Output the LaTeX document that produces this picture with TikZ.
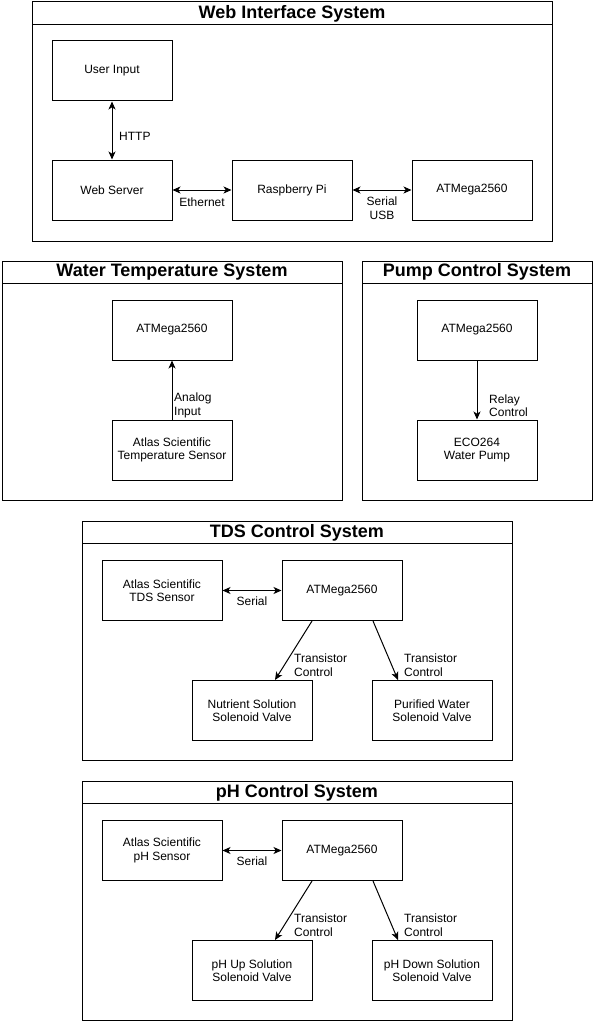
\documentclass[tikz,border=0pt]{standalone}
\usepackage{fontspec}
\setmainfont{Liberation Sans}
\usetikzlibrary{arrows.meta,calc}
\begin{document}
\begin{tikzpicture}[x=1pt,y=-1pt,
  box/.style={draw,line width=1pt,minimum width=120pt,minimum height=60pt,inner sep=0pt,align=center,font=\fontsize{12}{13.5}\selectfont},
  frame/.style={draw,line width=1pt},
  ttl/.style={font=\fontsize{18}{20}\selectfont\bfseries,inner sep=0pt},
  lbl/.style={font=\fontsize{12}{13.5}\selectfont,inner sep=0pt,align=left,anchor=west},
  lblc/.style={font=\fontsize{12}{13.5}\selectfont,inner sep=0pt,align=center},
  conn/.style={line width=1pt,-{Stealth[length=8pt,width=7pt,inset=2.2pt]}},
  biconn/.style={line width=1pt,{Stealth[length=8pt,width=7pt,inset=2.2pt]}-{Stealth[length=8pt,width=7pt,inset=2.2pt]}},
]
\useasboundingbox (0,0) rectangle (594,1022);

% ---------- Web Interface System ----------
\draw[frame] (32,2) rectangle (552,241);
\draw[frame] (32,25) -- (552,25);
\node[ttl] (tweb) at (292,13.5) {Web Interface System};
\node[box] (userin) at (112,71) {User Input};
\node[box] (websrv) at (112,190) {Web Server};
\node[box] (rpi) at (292,190) {Raspberry Pi};
\node[box] (atmw1) at (472,190) {ATMega2560};
\draw[biconn] (userin.south) -- (websrv.north);
\node[lbl] (lhttp) at (119,136) {HTTP};
\draw[biconn] (websrv.east) -- (rpi.west);
\node[lblc] (leth) at (202,202) {Ethernet};
\draw[biconn] (rpi.east) -- (atmw1.west);
\node[lblc] (lsusb) at (382,208) {Serial\\USB};

% ---------- Water Temperature System ----------
\draw[frame] (2,261) rectangle (342,500);
\draw[frame] (2,283.5) -- (342,283.5);
\node[ttl] (twat) at (172,272) {Water Temperature System};
\node[box] (atmwt) at (172,330) {ATMega2560};
\node[box] (tsens) at (172,450) {Atlas Scientific\\Temperature Sensor};
\draw[conn] (tsens.north) -- (atmwt.south);
\node[lbl] (lana) at (174,405.5) {Analog\\Input};

% ---------- Pump Control System ----------
\draw[frame] (362,261) rectangle (592,500);
\draw[frame] (362,283.5) -- (592,283.5);
\node[ttl] (tpump) at (477,272) {Pump Control System};
\node[box] (atmp) at (477,330) {ATMega2560};
\node[box] (pump) at (477,450) {ECO264\\Water Pump};
\draw[conn] (atmp.south) -- (pump.north);
\node[lbl] (lrel) at (489,405.5) {Relay\\Control};

% ---------- TDS Control System ----------
\draw[frame] (82,521) rectangle (512,760);
\draw[frame] (82,543.5) -- (512,543.5);
\node[ttl] (ttds) at (297,532.5) {TDS Control System};
\node[box] (tdss) at (162,590.5) {Atlas Scientific\\TDS Sensor};
\node[box] (atmt) at (342,590.5) {ATMega2560};
\node[box] (nutr) at (252,710.5) {Nutrient Solution\\Solenoid Valve};
\node[box] (puri) at (432,710.5) {Purified Water\\Solenoid Valve};
\draw[biconn] (tdss.east) -- (atmt.west);
\node[lblc] (lser1) at (252,601) {Serial};
\coordinate (t1s) at ($(atmt.south)+(-30,0)$);
\coordinate (t1e) at ($(nutr.north)+(23,0)$);
\coordinate (t2s) at ($(atmt.south)+(31,0)$);
\coordinate (t2e) at ($(puri.north)+(-34,0)$);
\draw[conn] (t1s) -- (t1e);
\draw[conn] (t2s) -- (t2e);
\node[lbl] (ltr1) at (294,665) {Transistor\\Control};
\node[lbl] (ltr2) at (404,665) {Transistor\\Control};

% ---------- pH Control System ----------
\draw[frame] (82,781) rectangle (512,1020);
\draw[frame] (82,803.5) -- (512,803.5);
\node[ttl] (tph) at (297,792.5) {pH Control System};
\node[box] (phs) at (162,850.5) {Atlas Scientific\\pH Sensor};
\node[box] (atmh) at (342,850.5) {ATMega2560};
\node[box] (phup) at (252,970.5) {pH Up Solution\\Solenoid Valve};
\node[box] (phdn) at (432,970.5) {pH Down Solution\\Solenoid Valve};
\draw[biconn] (phs.east) -- (atmh.west);
\node[lblc] (lser2) at (252,861) {Serial};
\coordinate (h1s) at ($(atmh.south)+(-30,0)$);
\coordinate (h1e) at ($(phup.north)+(23,0)$);
\coordinate (h2s) at ($(atmh.south)+(31,0)$);
\coordinate (h2e) at ($(phdn.north)+(-34,0)$);
\draw[conn] (h1s) -- (h1e);
\draw[conn] (h2s) -- (h2e);
\node[lbl] (ltr3) at (294,925) {Transistor\\Control};
\node[lbl] (ltr4) at (404,925) {Transistor\\Control};
\end{tikzpicture}
\end{document}
